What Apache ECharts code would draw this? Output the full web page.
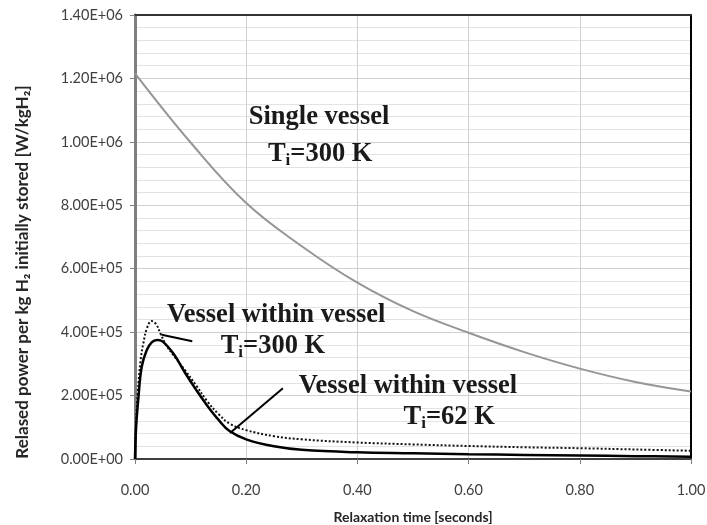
<!DOCTYPE html>
<html>
<head>
<meta charset="utf-8">
<script src="https://cdn.jsdelivr.net/npm/echarts@6/dist/echarts.min.js"></script>
<style>html,body{margin:0;padding:0;background:#fff;}#c{width:707px;height:525px;}</style>
</head>
<body>
<div id="c"></div>
<script>
// Single vessel, Ti=300 K (values in W/kgH2)
const singleT = [0, 0.1, 0.2, 0.3, 0.4, 0.5, 0.6, 0.7, 0.8, 0.9, 1.0];
const singleV = [1.216e6, 0.998e6, 0.807e6, 0.671e6, 0.556e6, 0.466e6, 0.398e6, 0.337e6, 0.285e6, 0.243e6, 0.213e6];

// Vessel within vessel, Ti=300 K (dotted)
const v300T = [0, 0.002, 0.005, 0.01, 0.015, 0.022, 0.03, 0.038, 0.046, 0.055, 0.07, 0.09, 0.11, 0.13, 0.15, 0.17, 0.2, 0.25, 0.3, 0.4, 0.5, 0.6, 0.7, 0.8, 0.9, 1.0];
const v300V = [0, 0.12e6, 0.21e6, 0.31e6, 0.365e6, 0.415e6, 0.435e6, 0.425e6, 0.395e6, 0.362e6, 0.325e6, 0.28e6, 0.232e6, 0.182e6, 0.142e6, 0.112e6, 0.091e6, 0.072e6, 0.062e6, 0.052e6, 0.046e6, 0.041e6, 0.037e6, 0.034e6, 0.030e6, 0.026e6];

// Vessel within vessel, Ti=62 K (solid)
const v62T = [0, 0.002, 0.006, 0.012, 0.021, 0.03, 0.04, 0.05, 0.07, 0.09, 0.11, 0.13, 0.15, 0.17, 0.2, 0.25, 0.3, 0.4, 0.5, 0.6, 0.7, 0.8, 0.9, 1.0];
const v62V = [0, 0.10e6, 0.19e6, 0.29e6, 0.343e6, 0.368e6, 0.375e6, 0.37e6, 0.33e6, 0.272e6, 0.218e6, 0.168e6, 0.124e6, 0.088e6, 0.062e6, 0.040e6, 0.029e6, 0.021e6, 0.018e6, 0.015e6, 0.013e6, 0.011e6, 0.009e6, 0.007e6];

// Axis ticks
const xTicks = [0, 0.2, 0.4, 0.6, 0.8, 1.0];
const yTicks = [0, 2e5, 4e5, 6e5, 8e5, 1e6, 1.2e6, 1.4e6];

// Annotations (anchor = text centre, data coordinates)
const annoSingle1 = {t: 0.331, v: 1.078e6, text: 'Single vessel'};
const annoSingle2 = {t: 0.333, v: 0.960e6, text: '{b|T}{s|i}{b|=300 K}'};
const annoVV300a = {t: 0.254, v: 0.452e6, text: 'Vessel within vessel'};
const annoVV300b = {t: 0.248, v: 0.355e6, text: '{b|T}{s|i}{b|=300 K}'};
const annoVV62a = {t: 0.491, v: 0.230e6, text: 'Vessel within vessel'};
const annoVV62b = {t: 0.565, v: 0.133e6, text: '{b|T}{s|i}{b|=62 K}'};
// Leader lines (data coordinates)
const leader1 = [[0.048, 0.392e6], [0.103, 0.371e6]];
const leader2 = [[0.171, 0.082e6], [0.266, 0.223e6]];

function zip(a, b) { return a.map((x, i) => [x, b[i]]); }
function sci(v) {
  if (v === 0) return '0.00E+00';
  const e = Math.floor(Math.log10(Math.abs(v)) + 1e-9);
  const m = v / Math.pow(10, e);
  return m.toFixed(2) + 'E+' + (e < 10 ? '0' + e : e);
}

const serifFont = '"Liberation Serif", "Times New Roman", serif';
const rich = {
  b: {fontFamily: serifFont, fontWeight: 'bold', fontSize: 26.5, color: '#1a1a1a'},
  s: {fontFamily: serifFont, fontWeight: 'bold', fontSize: 17, color: '#1a1a1a', padding: [13, 0, 0, 0]}
};
function anno(a) {
  const isRich = a.text.indexOf('{') === 0;
  return {
    coord: [a.t, a.v],
    symbol: 'circle', symbolSize: 1,
    itemStyle: {color: 'rgba(0,0,0,0)'},
    label: {
      show: true, position: 'inside', align: 'center', verticalAlign: 'middle',
      formatter: isRich ? a.text : '{b|' + a.text + '}',
      rich: rich
    }
  };
}

const labelFont = 'Lato';
const chart = echarts.init(document.getElementById('c'));
chart.setOption({
  animation: false,
  backgroundColor: '#fff',
  grid: {left: 135, right: 16, top: 15, bottom: 66, outerBoundsMode: 'none', containLabel: false},
  xAxis: [{
    type: 'value', min: xTicks[0], max: xTicks[xTicks.length - 1], interval: 0.2,
    name: 'Relaxation time [seconds]', nameLocation: 'middle', nameGap: 51,
    nameTextStyle: {fontFamily: labelFont, fontWeight: 'bold', fontSize: 14, color: '#262626'},
    axisLine: {show: true, onZero: false, lineStyle: {color: '#404040', width: 2}},
    axisTick: {show: true, inside: false, length: 5, lineStyle: {color: '#808080'}},
    axisLabel: {formatter: v => v.toFixed(2), fontFamily: labelFont, fontSize: 14.5, color: '#404040', margin: 24},
    splitLine: {show: true, lineStyle: {color: '#d0d0d0', width: 1}}
  }, {
    type: 'value', position: 'top', min: 0, max: 1,
    axisLine: {show: true, onZero: false, lineStyle: {color: '#333', width: 2}},
    axisTick: {show: false}, axisLabel: {show: false}, splitLine: {show: false}
  }],
  yAxis: [{
    type: 'value', min: yTicks[0], max: yTicks[yTicks.length - 1], interval: 2e5,
    name: 'Relased power per kg H\u2082 initially stored [W/kgH\u2082]', nameLocation: 'middle', nameGap: 104,
    nameTextStyle: {fontFamily: labelFont, fontWeight: 'bold', fontSize: 17, color: '#262626', padding: [0, 70, 0, 0]},
    axisLine: {show: true, onZero: false, lineStyle: {color: '#7f7f7f', width: 3}},
    axisTick: {show: true, inside: false, length: 5, lineStyle: {color: '#808080'}},
    axisLabel: {formatter: sci, fontFamily: labelFont, fontSize: 14.5, color: '#404040', margin: 12},
    splitLine: {show: true, lineStyle: {color: '#d0d0d0', width: 1}},
    minorTick: {show: false, splitNumber: 5},
    minorSplitLine: {show: true, lineStyle: {color: '#e3e3e3', width: 1}}
  }, {
    type: 'value', position: 'right', min: 0, max: 1,
    axisLine: {show: true, onZero: false, lineStyle: {color: '#000', width: 2}},
    axisTick: {show: false}, axisLabel: {show: false}, splitLine: {show: false}
  }],
  series: [
    {
      type: 'line', name: 'Single vessel', data: zip(singleT, singleV), smooth: 0.4,
      showSymbol: false, lineStyle: {color: '#969696', width: 2}, z: 3,
      markPoint: {silent: true, data: [anno(annoSingle1), anno(annoSingle2)]}
    },
    {
      type: 'line', name: 'Vessel within vessel Ti=300 K', data: zip(v300T, v300V), smooth: 0.4,
      showSymbol: false, lineStyle: {color: '#111', width: 2, type: [2, 2]}, z: 4,
      markPoint: {silent: true, data: [anno(annoVV300a), anno(annoVV300b)]},
      markLine: {symbol: 'none', silent: true, label: {show: false}, lineStyle: {color: '#000', width: 2, type: 'solid'},
        data: [[{coord: leader1[0]}, {coord: leader1[1]}], [{coord: leader2[0]}, {coord: leader2[1]}]]}
    },
    {
      type: 'line', name: 'Vessel within vessel Ti=62 K', data: zip(v62T, v62V), smooth: 0.4,
      showSymbol: false, lineStyle: {color: '#000', width: 2.5}, z: 5,
      markPoint: {silent: true, data: [anno(annoVV62a), anno(annoVV62b)]}
    }
  ]
});
</script>
</body>
</html>
